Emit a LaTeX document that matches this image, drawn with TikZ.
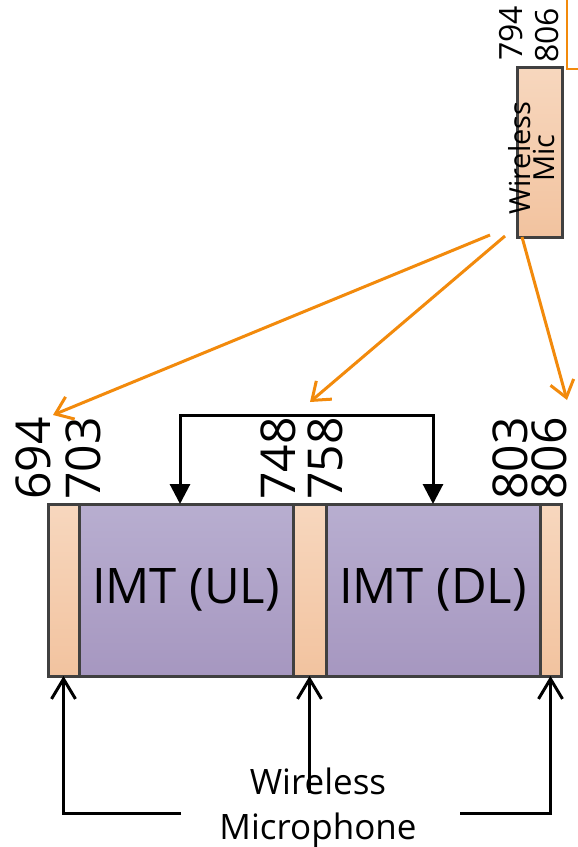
\documentclass[tikz,border=0pt]{standalone}
\usepackage{fontspec}
\setmainfont{Open Sans}
\usetikzlibrary{arrows.meta,positioning,calc}
\definecolor{peachtop}{HTML}{F7D7BE}
\definecolor{peachbot}{HTML}{F2C39F}
\definecolor{purptop}{HTML}{B8AED0}
\definecolor{purpbot}{HTML}{A697C0}
\definecolor{edgegray}{HTML}{404040}
\definecolor{micorange}{HTML}{F28A0C}
\tikzset{
  band/.style={draw=edgegray, line width=3pt, outer sep=0pt, inner sep=0pt,
    minimum height=172pt, anchor=north west},
  guard/.style={band, top color=peachtop, bottom color=peachbot},
  imt/.style={band, top color=purptop, bottom color=purpbot,
    font=\fontsize{49}{49}\selectfont},
  freq/.style={rotate=90, anchor=base west, inner sep=0pt,
    font=\fontsize{48}{48}\selectfont},
  micfreq/.style={freq, font=\fontsize{32}{32}\selectfont},
  hop/.style={line width=3pt, {Triangle[length=20pt,width=20pt]}-{Triangle[length=20pt,width=20pt]}},
  barb/.style={line width=3pt, -{Straight Barb[length=20pt,width=24pt]}},
  orng/.style={draw=micorange, line width=3pt, -{Straight Barb[length=16pt,width=24pt]}}
}
\begin{document}
\begin{tikzpicture}[x=1pt, y=-1pt]
  \useasboundingbox (0,0) rectangle (578,847);
  % band
  \node[guard, minimum width=31pt] (g1) at (48,504) {};
  \node[imt, minimum width=214pt, right=0pt of g1] (ul) {IMT (UL)};
  \node[guard, minimum width=33pt, right=0pt of ul] (g3) {};
  \node[imt, minimum width=214pt, right=0pt of g3] (dl) {IMT (DL)};
  \node[guard, minimum width=21pt, right=0pt of dl] (g5) {};
  \node[freq] (f694) at (50,500) {694};
  \node[freq] (f703) at (100,500) {703};
  \node[freq] (f748) at (295,500) {748};
  \node[freq] (f758) at (342,500) {758};
  \node[freq] (f803) at (527,500) {803};
  \node[freq] (f806) at (566,500) {806};
  % mic
  \node[guard, minimum width=45pt, minimum height=170pt] (mic) at (517,67) {};
  \node[rotate=90, align=center, inner sep=0pt, font=\fontsize{29}{24}\selectfont]
    (micl) at ([xshift=-8pt,yshift=-6pt]mic.center) {Wireless\\Mic};
  \node[micfreq] (m794) at (522,61) {794};
  \node[micfreq] (m806) at (558,63) {806};
  \node[align=center, inner sep=0pt, font=\fontsize{35}{45}\selectfont]
    (wm) at (318,808) {Wireless\\Microphone};
  \coordinate (bt) at (567,0);
  \coordinate (br) at (578,69);
  \coordinate (t1) at (53,415);
  \coordinate (t2) at (310,402);
  \coordinate (t3) at (567,400);
  \coordinate (wl) at (181,813);
  \coordinate (wr) at (460,813);
  \begin{scope}[line join=miter]
    \draw[hop] ([xshift=-6pt]ul.north) -- ++(0,-89) -| (dl.north);
    \draw[barb] (wl) -| (g1.south);
    \draw[barb] ($(g3.south |- wm.north)+(0,25)$) -- (g3.south);
    \draw[barb] (wr) -| (g5.south);
    \draw[orng] ([xshift=-27pt,yshift=2pt]mic.south west) -- (t1);
    \draw[orng] ([xshift=-12pt,yshift=1pt]mic.south west) -- (t2);
    \draw[orng] ([xshift=5pt]mic.south west) -- (t3);
    \draw[draw=micorange, line width=2pt] (bt) |- (br);
  \end{scope}
\end{tikzpicture}
\end{document}
